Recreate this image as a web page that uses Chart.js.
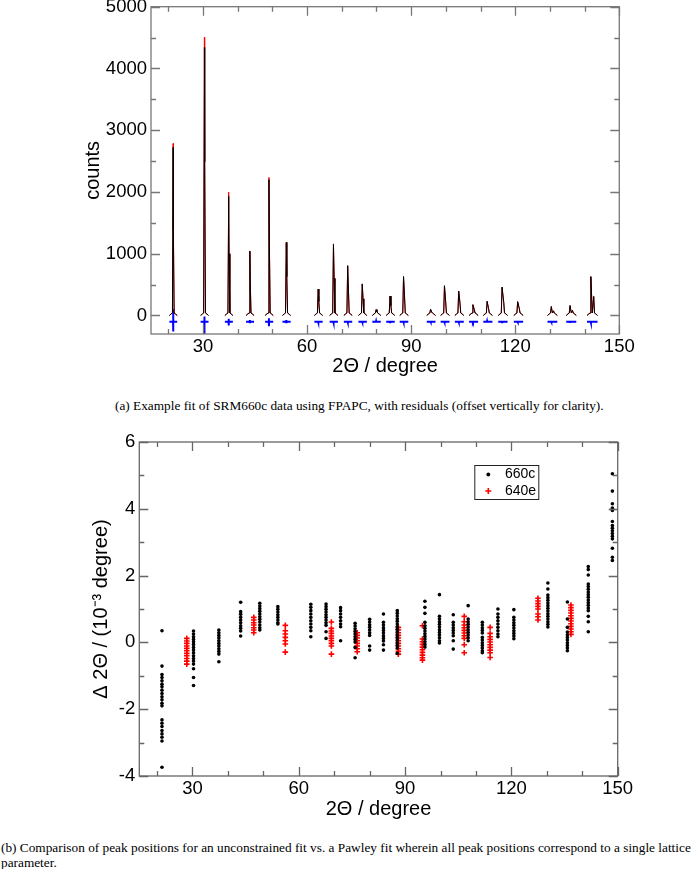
<!DOCTYPE html>
<html><head><meta charset="utf-8">
<script src="https://cdn.jsdelivr.net/npm/chart.js@4.4.1/dist/chart.umd.min.js"></script>
<style>
html,body{margin:0;padding:0;background:#fff;}
body{width:692px;height:869px;position:relative;overflow:hidden;}
canvas{position:absolute;left:0;}
#c1{top:0;}
#c2{top:420px;}
.cap{position:absolute;font-family:"Liberation Serif","Times New Roman",serif;font-size:13.3px;line-height:15px;color:#000;white-space:nowrap;}
#capA{left:115px;top:397.5px;}
#capB{left:1px;top:839.5px;}
</style></head><body>
<canvas id="c1" width="692" height="382"></canvas>
<div class="cap" id="capA">(a) Example fit of SRM660c data using FPAPC, with residuals (offset vertically for clarity).</div>
<canvas id="c2" width="692" height="405"></canvas>
<div class="cap" id="capB">(b) Comparison of peak positions for an unconstrained fit vs. a Pawley fit wherein all peak positions correspond to a single lattice<br>parameter.</div>
<script>
// ---------- (a) diffraction pattern data ----------
const peakPos      = [21.4, 30.4, 37.4, 43.5, 49.0, 54.0, 63.2, 67.6, 71.7, 75.9, 79.9, 83.9, 87.8, 95.6, 99.6, 103.7, 107.8, 111.9, 116.2, 120.7, 130.4, 135.8, 141.8];
const obsCounts    = [2720, 4340, 1930, 1045, 2200, 1185, 428, 1152, 808, 512, 95, 315, 631, 102, 483, 396, 176, 230, 459, 225, 146, 162, 631];
const calcCounts   = [2785, 4505, 1998, 1035, 2236, 1178, 424, 1160, 802, 506, 92, 310, 626, 99, 478, 390, 172, 226, 454, 221, 142, 158, 626];
const alpha2Pos    = [21.45, 30.48, 37.5, 43.61, 49.13, 54.15, 63.38, 67.79, 71.91, 76.12, 80.14, 84.16, 88.08, 95.91, 99.94, 104.07, 108.2, 112.32, 116.69, 121.18, 131.03, 136.5, 142.63];
const alpha2Counts = [1400, 2490, 1000, 550, 1150, 630, 226, 600, 426, 270, 60, 160, 318, 55, 226, 200, 92, 108, 210, 108, 75, 82, 307];
const dipCounts    = [null, null, null, null, null, null, null, null, null, null, null, null, null, null, null, null, null, null, null, null, 40, 45, 40];
const residOffset  = -100;
const residUp      = [203, 84, 46, 25, 55, 25, 10, 12, 10, 8, 6, 8, 10, 6, 8, 8, 6, 6, 8, 6, 6, 6, 12];
const residDown    = [159, 320, 62, 25, 75, 25, 10, 12, 10, 8, 6, 8, 10, 6, 8, 8, 6, 6, 8, 6, 6, 6, 12];
const footCounts   = [25, 40];

const xTicksA = [30, 60, 90, 120, 150];
const xMinorA = [20, 40, 50, 70, 80, 100, 110, 130, 140];
const yTicksA = [0, 1000, 2000, 3000, 4000, 5000];
const yMinorA = [500, 1500, 2500, 3500, 4500];

// ---------- (b) peak position differences ----------
const pos660c = [21.4, 30.3, 37.45, 43.6, 49.0, 54.1, 63.4, 67.7, 71.8, 75.9, 80.0, 83.9, 87.8, 95.6, 99.7, 103.6, 107.8, 111.8, 116.2, 120.7, 130.3, 135.8, 141.7, 148.5];
const dev660c = [
  [0.35,-0.71,-0.96,-1.05,-1.15,-1.25,-1.33,-1.43,-1.53,-1.63,-1.72,-1.82,-1.90,-2.32,-2.42,-2.52,-2.64,-2.74,-2.84,-2.95,-3.74],
  [0.34,0.25,0.17,0.09,0.02,-0.06,-0.15,-0.23,-0.31,-0.40,-0.48,-0.56,-0.65,-0.79,-1.05,-1.29],
  [0.37,0.29,0.21,0.13,0.05,-0.03,-0.11,-0.19,-0.27,-0.35,-0.58],
  [1.20,0.92,0.84,0.75,0.67,0.59,0.50,0.42,0.34,0.19],
  [1.17,1.09,1.01,0.93,0.85,0.77,0.69,0.61,0.52,0.44,0.37],
  [1.07,0.99,0.91,0.83,0.75,0.67,0.59,0.55],
  [1.14,1.05,0.95,0.85,0.75,0.65,0.55,0.45,0.35,0.17],
  [1.15,1.07,0.99,0.91,0.83,0.75,0.67,0.59,0.51,0.32,0.12],
  [1.04,0.95,0.85,0.75,0.65,0.55,0.47,0.05],
  [0.57,0.49,0.41,0.33,0.25,0.17,0.09,0.01,-0.15,-0.46],
  [0.69,0.61,0.53,0.45,0.37,0.29,0.21,-0.11,-0.23],
  [0.85,0.60,0.52,0.44,0.36,0.28,0.20,0.12,0.04,-0.07,-0.23],
  [0.95,0.87,0.79,0.71,0.63,0.55,0.47,0.39,0.31,0.23,0.15,0.07,-0.01,-0.09,-0.17,-0.33],
  [1.23,1.05,0.87,0.60,0.50,0.42,0.34,0.26,0.18,0.10,0.02,-0.06,-0.14],
  [1.43,0.78,0.70,0.62,0.54,0.46,0.38,0.30,0.22,0.14,0.05,-0.02],
  [0.83,0.60,0.52,0.44,0.36,0.28,0.20,0.05,-0.20],
  [1.10,0.70,0.62,0.54,0.46,0.38,0.30,0.22,0.14,0.05],
  [0.60,0.52,0.44,0.36,0.28,0.15,0.07,-0.01,-0.09,-0.17,-0.25,-0.31],
  [1.00,0.85,0.75,0.65,0.55,0.45,0.35,0.25,0.17],
  [0.98,0.75,0.67,0.59,0.51,0.43,0.35,0.27,0.19,0.11],
  [1.78,1.60,1.42,1.34,1.26,1.18,1.10,1.02,0.94,0.86,0.78,0.70,0.62,0.54,0.46],
  [1.21,0.70,0.45,0.31,0.23,0.15,0.07,-0.01,-0.09,-0.17,-0.25],
  [2.27,2.18,2.02,1.75,1.67,1.59,1.51,1.43,1.35,1.27,1.19,1.11,1.03,0.95,0.78,0.62,0.32],
  [5.05,4.53,4.15,4.02,3.95,3.62,3.50,3.42,3.34,3.26,3.18,3.10,2.82,2.55,2.45]
];
const pos640e = [28.4, 47.3, 56.2, 69.2, 76.5, 88.1, 94.9, 106.7, 114.0, 127.5, 136.8];
const dev640e = [
  [0.12,0.04,-0.03,-0.11,-0.18,-0.25,-0.33,-0.40,-0.48,-0.56,-0.65],
  [0.75,0.67,0.59,0.52,0.44,0.37,0.29],
  [0.51,0.35,0.25,0.15,0.05,-0.05,-0.29],
  [0.61,0.42,0.34,0.27,0.19,0.12,0.05,-0.03,-0.11,-0.35],
  [0.29,0.21,0.13,0.05,-0.03,-0.11,-0.19,-0.28],
  [0.45,0.37,0.29,0.21,0.13,0.05,-0.03,-0.11,-0.19,-0.27,-0.35],
  [0.50,0.10,0.02,-0.06,-0.14,-0.22,-0.30,-0.38,-0.46,-0.53],
  [0.78,0.62,0.52,0.44,0.36,0.28,0.20,0.12,-0.07,-0.31],
  [0.45,0.27,0.17,0.09,0.01,-0.07,-0.15,-0.23,-0.31,-0.45],
  [1.32,1.24,1.16,1.08,1.00,0.85,0.77,0.67],
  [1.12,1.04,0.96,0.88,0.80,0.72,0.64,0.56,0.48,0.40,0.32,0.24]
];
const seriesLabels = ['660c', '640e'];

const xTicksB = [30, 60, 90, 120, 150];
const xMinorB = [20, 40, 50, 70, 80, 100, 110, 130, 140];
const yTicksB = [-4, -2, 0, 2, 4, 6];
const yMinorB = [-3, -1, 1, 3, 5];

// ---------- build library datasets ----------
function buildProfile(tips) {
  const pts = [];
  peakPos.forEach((p, i) => {
    const q = alpha2Pos[i];
    pts.push({x: p - 1.1, y: 0}, {x: p - 0.6, y: footCounts[0]}, {x: p - 0.22, y: footCounts[1]}, {x: p, y: tips[i]});
    if (dipCounts[i] !== null) pts.push({x: (p + q) / 2, y: dipCounts[i]});
    pts.push({x: q, y: alpha2Counts[i]}, {x: q + 0.22, y: footCounts[1]}, {x: q + 0.6, y: footCounts[0]}, {x: q + 1.1, y: 0}, {x: q + 1.1, y: null});
  });
  return pts;
}
function buildResidual() {
  const pts = [];
  peakPos.forEach((p, i) => {
    const q = alpha2Pos[i];
    pts.push({x: p - 1.1, y: residOffset}, {x: p - 0.04, y: residOffset},
             {x: p - 0.015, y: residOffset + residUp[i]}, {x: p + 0.015, y: residOffset - residDown[i]},
             {x: p + 0.04, y: residOffset}, {x: q + 1.1, y: residOffset}, {x: q + 1.1, y: null});
  });
  return pts;
}
const pts660 = pos660c.flatMap((p, i) => dev660c[i].map(v => ({x: p, y: v})));
const pts640 = pos640e.flatMap((p, i) => dev640e[i].map(v => ({x: p, y: v})));

// ---------- plugins ----------
const frameTicks = {
  id: 'frameTicks',
  afterDatasetsDraw(chart, args, o) {
    const {ctx, chartArea: a, scales: {x, y}} = chart;
    ctx.save();
    ctx.strokeStyle = o.color; ctx.lineWidth = o.width;
    ctx.beginPath();
    const vx = (vals, len) => vals.forEach(v => { const px = Math.round(x.getPixelForValue(v)) + 0.5;
      ctx.moveTo(px, a.bottom); ctx.lineTo(px, a.bottom - len); ctx.moveTo(px, a.top); ctx.lineTo(px, a.top + len); });
    const vy = (vals, len) => vals.forEach(v => { const py = Math.round(y.getPixelForValue(v)) + 0.5;
      ctx.moveTo(a.left, py); ctx.lineTo(a.left + len, py); ctx.moveTo(a.right, py); ctx.lineTo(a.right - len, py); });
    vx(o.xMajor, o.major); vx(o.xMinor, o.minor); vy(o.yMajor, o.major); vy(o.yMinor, o.minor);
    ctx.stroke();
    ctx.strokeRect(a.left, a.top, a.right - a.left, a.bottom - a.top);
    ctx.restore();
  }
};
const boxLegend = {
  id: 'boxLegend',
  afterDraw(chart, args, o) {
    if (!o.show) return;
    const {ctx, chartArea: a} = chart;
    ctx.save();
    ctx.strokeStyle = '#222'; ctx.lineWidth = 1;
    ctx.strokeRect(a.left + o.left + 0.5, a.top + o.top + 0.5, o.width, o.height);
    ctx.font = o.font; ctx.textBaseline = 'middle'; ctx.textAlign = 'left'; ctx.fillStyle = '#000';
    chart.data.datasets.forEach((ds, i) => {
      const cy = a.top + o.rows[i], mx = a.left + o.markerX;
      if (ds.pointStyle === 'cross') {
        ctx.strokeStyle = ds.borderColor; ctx.lineWidth = ds.borderWidth;
        ctx.beginPath(); ctx.moveTo(mx - 3, cy); ctx.lineTo(mx + 3, cy); ctx.moveTo(mx, cy - 3); ctx.lineTo(mx, cy + 3); ctx.stroke();
      } else {
        ctx.fillStyle = ds.backgroundColor; ctx.beginPath(); ctx.arc(mx, cy, 1.9, 0, Math.PI * 2); ctx.fill();
      }
      ctx.fillStyle = '#000';
      ctx.fillText(ds.label, a.left + o.textX, cy);
    });
    ctx.restore();
  }
};

Chart.defaults.font.family = "'Liberation Sans', Arial, Helvetica, sans-serif";
Chart.defaults.color = '#000';
const tickFont = {size: 18.5};
const titleFont = {size: 20};

function axis(min, max, ticks, title, fitSize, isX, tickPad) {
  return {
    type: 'linear', min, max, position: isX ? 'bottom' : 'left',
    grid: {display: false, drawTicks: false, tickLength: 0},
    border: {display: false},
    ticks: {font: tickFont, color: '#000', padding: tickPad, autoSkip: false, maxRotation: 0, minRotation: 0,
            callback: v => String(v)},
    afterBuildTicks: s => { s.ticks = ticks.map(v => ({value: v})); },
    afterFit: s => {
      if (isX) { s.height = fitSize; s.paddingLeft = 0; s.paddingRight = 0; }
      else { s.width = fitSize; s.paddingTop = 0; s.paddingBottom = 0; }
    },
    title: {display: true, text: title, font: titleFont, color: '#000', padding: 4}
  };
}

new Chart(document.getElementById('c1'), {
  type: 'scatter',
  data: {datasets: [
    {label: 'observed', data: buildProfile(obsCounts), showLine: true, borderColor: '#000', borderWidth: 1, pointRadius: 0, spanGaps: false},
    {label: 'calculated', data: buildProfile(calcCounts), showLine: true, borderColor: '#ff0000', borderWidth: 1, pointRadius: 0, spanGaps: false},
    {label: 'residual', data: buildResidual(), showLine: true, borderColor: '#0000ff', borderWidth: 2, pointRadius: 0, spanGaps: false}
  ]},
  options: {
    responsive: false, animation: false, devicePixelRatio: 1,
    layout: {padding: {left: 77, right: 72.7, top: 6.7, bottom: 0}},
    scales: {
      x: axis(15, 150, xTicksA, '2Θ / degree', 48, true, 2),
      y: axis(-300, 5000, yTicksA, 'counts', 74, false, 4)
    },
    plugins: {
      legend: {display: false}, tooltip: {enabled: false},
      frameTicks: {xMajor: xTicksA, xMinor: xMinorA, yMajor: yTicksA, yMinor: yMinorA, major: 9, minor: 5, color: '#777', width: 1.3},
      boxLegend: {show: false}
    }
  },
  plugins: [frameTicks, boxLegend]
});

new Chart(document.getElementById('c2'), {
  type: 'scatter',
  data: {datasets: [
    {label: seriesLabels[0], data: pts660, pointStyle: 'circle', pointRadius: 1.8, backgroundColor: '#000', borderColor: '#000', borderWidth: 0},
    {label: seriesLabels[1], data: pts640, pointStyle: 'cross', pointRadius: 2.8, backgroundColor: '#ff0000', borderColor: '#ff0000', borderWidth: 1.6}
  ]},
  options: {
    responsive: false, animation: false, devicePixelRatio: 1,
    layout: {padding: {left: 85.5, right: 74.3, top: 22, bottom: 0}},
    scales: {
      x: axis(15, 150, xTicksB, '2Θ / degree', 49, true, 2),
      y: axis(-4, 6, yTicksB, 'Δ 2Θ / (10⁻³ degree)', 53.8, false, 4)
    },
    plugins: {
      legend: {display: false}, tooltip: {enabled: false},
      frameTicks: {xMajor: xTicksB, xMinor: xMinorB, yMajor: yTicksB, yMinor: yMinorB, major: 9, minor: 5, color: '#666', width: 1.3},
      boxLegend: {show: true, left: 335, top: 23, width: 64, height: 34, rows: [32.5, 49], markerX: 349, textX: 365.7, font: "14px 'Liberation Sans', Arial, sans-serif"}
    }
  },
  plugins: [frameTicks, boxLegend]
});
</script>
</body></html>
